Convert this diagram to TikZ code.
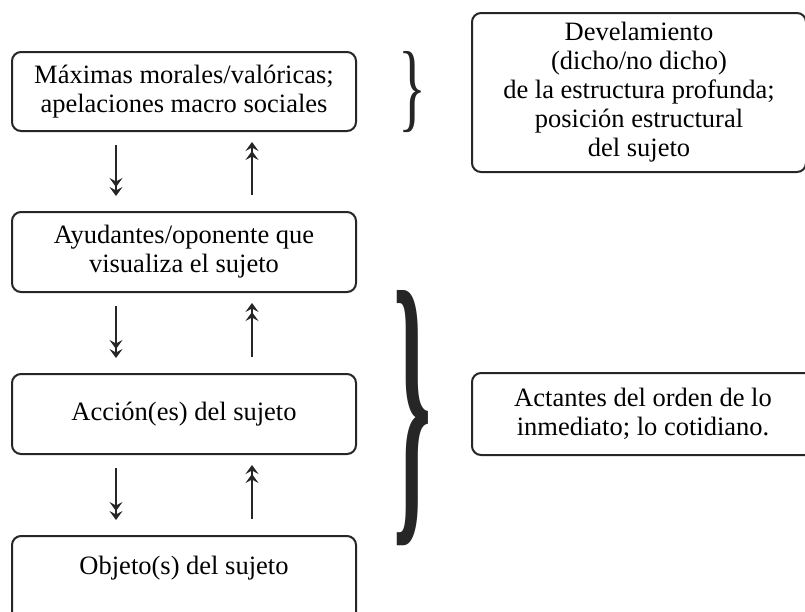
\documentclass[tikz,border=0pt]{standalone}
\usepackage{fontspec}
\setmainfont{Liberation Serif}
\usetikzlibrary{arrows.meta}
\begin{document}
\begin{tikzpicture}[x=1pt,y=-1pt,
  box/.style={draw=black!85,line width=2pt,rounded corners=9pt,align=center,
    font=\fontsize{26.5}{29}\selectfont,inner sep=0pt},
  lbox/.style={box,minimum width=344pt},
  txt/.style={align=center,font=\fontsize{26.5}{29}\selectfont,inner sep=0pt},
  conn/.style={line width=2.2pt,draw=black!85,
    -{Stealth[length=9pt,width=13pt,inset=3.5pt]Stealth[length=9pt,width=13pt,inset=3.5pt,sep=-4pt]}}
]
\useasboundingbox (0,0) rectangle (805,611);
\fill[white] (0,0) rectangle (805,611);

\node[lbox,minimum height=79pt] (b1) at (184,91.5) {Máximas morales/valóricas;\\apelaciones macro sociales};
\node[lbox,minimum height=80pt] (b2) at (184,252) {Ayudantes/oponente que\\visualiza el sujeto};
\node[lbox,minimum height=80pt] (b3) at (184,414) {Acción(es) del sujeto};
\node[lbox,minimum height=90pt,anchor=north] (b4) at (184,535) {};
\node[txt] (t4) at (184,568) {Objeto(s) del sujeto};

\node[box,minimum width=334pt,minimum height=159pt] (r1) at (639,92.5)
  {Develamiento\\(dicho/no dicho)\\de la estructura profunda;\\posición estructural\\del sujeto};
\node[box,minimum width=342pt,minimum height=82pt] (r2) at (643,414)
  {Actantes del orden de lo\\inmediato; lo cotidiano.};

\coordinate (dx) at (116,0);
\coordinate (ux) at (252,0);
\foreach \a/\b in {b1/b2,b2/b3,b3/b4}{
  \draw[conn,shorten <=13pt,shorten >=19pt] (\a.south -| dx) -- (\b.north -| dx);
  \draw[conn,shorten <=16pt,shorten >=14pt] (\b.north -| ux) -- (\a.south -| ux);
}

\node[inner sep=0pt,text=black!85] (br1) at (412,92) {\resizebox{28pt}{68pt}{\}}};
\node[inner sep=0pt,text=black!85] (br2) at (413,418) {\resizebox{38pt}{214pt}{\bfseries\}}};
\end{tikzpicture}
\end{document}
